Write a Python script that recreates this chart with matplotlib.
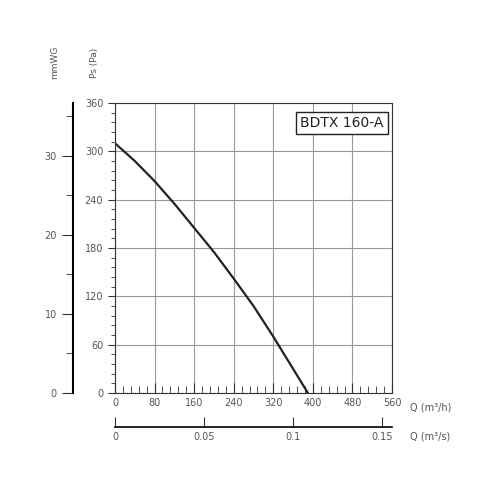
import matplotlib
matplotlib.use('Agg')
import matplotlib.pyplot as plt
from matplotlib.ticker import MultipleLocator

# curve
q_m3h = [0, 40, 80, 120, 160, 200, 240, 280, 320, 360, 390]
ps_pa = [310, 288, 263, 235, 205, 175, 142, 108, 70, 30, 0]
model = 'BDTX 160-A'

PA_PER_MM = 9.81
GREY = '#555555'

fig = plt.figure(figsize=(5, 5), dpi=100)
ax = fig.add_axes([0.23, 0.214, 0.554, 0.58])
ax.plot(q_m3h, ps_pa, color='#222222', lw=1.6)

ax.set_xlim(0, 560)
ax.set_ylim(0, 360)
ax.xaxis.set_major_locator(MultipleLocator(80))
ax.xaxis.set_minor_locator(MultipleLocator(16))
ax.yaxis.set_major_locator(MultipleLocator(60))
ax.yaxis.set_minor_locator(MultipleLocator(12))
ax.grid(True, which='major', color='#999999', lw=0.8)
for s in ax.spines.values():
    s.set_color('#333333')
ax.tick_params(which='both', direction='out', colors='#333333', labelcolor=GREY, labelsize=7)
ax.tick_params(which='major', length=5)
ax.tick_params(which='minor', length=3)
ax.tick_params(axis='x', which='both', direction='in', length=5)
ax.tick_params(axis='x', which='major', length=7)

ax.text(0.97, 0.93, model, transform=ax.transAxes, ha='right', va='center', fontsize=10,
        color='#222222', bbox=dict(boxstyle='square,pad=0.3', fc='white', ec='#222222', lw=1))

# mmWG axis on the left
mm = ax.secondary_yaxis(-0.152, functions=(lambda p: p / PA_PER_MM, lambda m: m * PA_PER_MM))
mm.yaxis.set_major_locator(MultipleLocator(10))
mm.yaxis.set_minor_locator(MultipleLocator(5))
mm.spines['left'].set_linewidth(1.5)
mm.tick_params(which='both', colors='#333333', labelcolor=GREY, labelsize=7)
mm.tick_params(which='major', length=8)
mm.tick_params(which='minor', length=5)

# m3/s axis below
qs = ax.secondary_xaxis(-0.117, functions=(lambda h: h / 3600, lambda s: s * 3600))
qs.set_xticks([0, 0.05, 0.1, 0.15])
qs.set_xticklabels(['0', '0.05', '0.1', '0.15'])
qs.spines['bottom'].set_linewidth(1.2)
qs.tick_params(direction='in', length=7, colors='#333333', labelcolor=GREY, labelsize=7)

fig.text(0.11, 0.875, 'mmWG', rotation=90, ha='center', va='center', fontsize=6.5, color=GREY)
fig.text(0.19, 0.875, 'Ps (Pa)', rotation=90, ha='center', va='center', fontsize=6.5, color=GREY)
fig.text(0.82, 0.185, 'Q (m³/h)', ha='left', va='center', fontsize=7, color=GREY)
fig.text(0.82, 0.127, 'Q (m³/s)', ha='left', va='center', fontsize=7, color=GREY)

fig.savefig('out.png', dpi=100)
